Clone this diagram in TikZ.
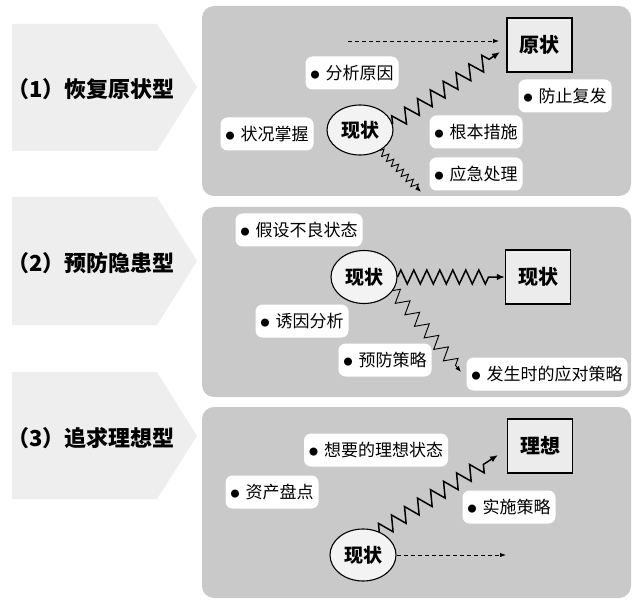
\documentclass[tikz,border=0pt]{standalone}
\usepackage{fontspec}
\newfontfamily\cjk{Noto Sans CJK SC}
\usetikzlibrary{decorations.pathmorphing,arrows.meta,shapes.geometric}
\definecolor{panelgray}{HTML}{C9C9C9}
\definecolor{tabgray}{HTML}{EEEEEE}
\definecolor{boxgray}{HTML}{ECECEC}
\definecolor{ellgray}{HTML}{F3F3F3}
\tikzset{
  tab/.style={fill=tabgray, draw=none},
  panel/.style={fill=panelgray, rounded corners=12pt},
  tabtext/.style={anchor=west, inner sep=0pt, font=\cjk\bfseries\fontsize{22pt}{22pt}\selectfont},
  lbl/.style={fill=white, rounded corners=7pt, minimum height=33pt, inner xsep=5pt, inner ysep=0pt,
    font=\cjk\fontsize{17pt}{17pt}\selectfont},
  statebox/.style={draw=black, line width=1.3pt, fill=boxgray, minimum width=65pt, minimum height=54pt,
    font=\cjk\bfseries\fontsize{20pt}{20pt}\selectfont},
  now/.style={ellipse, draw=black, line width=1.1pt, fill=ellgray, inner sep=0pt, minimum width=66pt,
    font=\cjk\bfseries\fontsize{19pt}{19pt}\selectfont},
  zz/.style={decorate, decoration={zigzag, segment length=15.5pt, amplitude=7.5pt, post length=12pt},
    line width=1.5pt, -{Latex[length=8pt,width=6.5pt]}},
  zzthin/.style={decorate, decoration={zigzag, segment length=15pt, amplitude=6.5pt, post length=6pt},
    line width=0.9pt, -{Latex[length=6pt,width=4.5pt]}},
  zzsmall/.style={decorate, decoration={zigzag, segment length=7pt, amplitude=3.5pt, post length=5pt},
    line width=0.9pt, -{Latex[length=6pt,width=4.5pt]}},
  dottedarrow/.style={dash pattern=on 4pt off 3pt, line width=0.9pt, -{Latex[length=6pt,width=4.5pt]}}
}
\newcommand{\bul}[1]{\raisebox{1.2pt}{\fontsize{9pt}{9pt}\selectfont ●}\hspace{6pt}#1}
\begin{document}
\begin{tikzpicture}[x=1pt,y=-1pt]
\useasboundingbox (0,0) rectangle (640,604);
\fill[white] (0,0) rectangle (640,604);
% left tabs
\fill[tab] (12,24) -- (157,24) -- (197,87) -- (157,151) -- (12,151) -- cycle;
\fill[tab] (12,197) -- (157,197) -- (197,261) -- (157,325) -- (12,325) -- cycle;
\fill[tab] (12,372) -- (157,372) -- (197,436) -- (157,499) -- (12,499) -- cycle;
\node[tabtext] (t1) at (7,89) {（1）恢复原状型};
\node[tabtext] (t2) at (7,263) {（2）预防隐患型};
\node[tabtext] (t3) at (7,438) {（3）追求理想型};
% panels
\fill[panel] (202,6) rectangle (631,196);
\fill[panel] (202,207) rectangle (631,397);
\fill[panel] (202,407) rectangle (631,598);

% ---------- panel 1
\node[statebox] (b1) at (539.5,45) {原状};
\node[now, minimum height=50pt] (e1) at (360,130) {现状};
\node[lbl] (l11) at (352,73) {\bul{分析原因}};
\node[lbl] (l12) at (565,96) {\bul{防止复发}};
\node[lbl] (l13) at (267,134) {\bul{状况掌握}};
\node[lbl] (l14) at (476,132) {\bul{根本措施}};
\node[lbl] (l15) at (476,174) {\bul{应急处理}};
\coordinate (d1s) at (348,41);
\coordinate (d1e) at (499,41);
\coordinate (z1e) at (500,52);
\coordinate (s1e) at (421,192);
\draw[dottedarrow] (d1s) -- (d1e);
\draw[zz] (e1.10) -- (z1e);
\draw[zzsmall] (e1.-45) -- (s1e);

% ---------- panel 2
\node[statebox] (b2) at (538,277) {现状};
\node[now, minimum height=53pt] (e2) at (364,277) {现状};
\node[lbl] (l21) at (299,230) {\bul{假设不良状态}};
\node[lbl] (l22) at (302,321) {\bul{诱因分析}};
\node[lbl] (l23) at (385,360) {\bul{预防策略}};
\node[lbl] (l24) at (547,374) {\bul{发生时的应对策略}};
\coordinate (z2e) at (461,372);
\draw[zz, decoration={zigzag, segment length=13pt, amplitude=7pt, post length=16pt}] (e2.east) -- (b2.west);
\draw[zzthin] (e2.-25) -- (z2e);

% ---------- panel 3
\node[statebox] (b3) at (540,446) {理想};
\node[now, minimum height=52pt] (e3) at (363,555) {现状};
\node[lbl] (l31) at (376,450) {\bul{想要的理想状态}};
\node[lbl] (l32) at (272,492) {\bul{资产盘点}};
\node[lbl] (l33) at (509,507) {\bul{实施策略}};
\coordinate (z3e) at (498,455);
\coordinate (d3e) at (506,555);
\draw[zz] (e3.55) -- (z3e);
\draw[dottedarrow] (e3.east) -- (d3e);
\end{tikzpicture}
\end{document}
